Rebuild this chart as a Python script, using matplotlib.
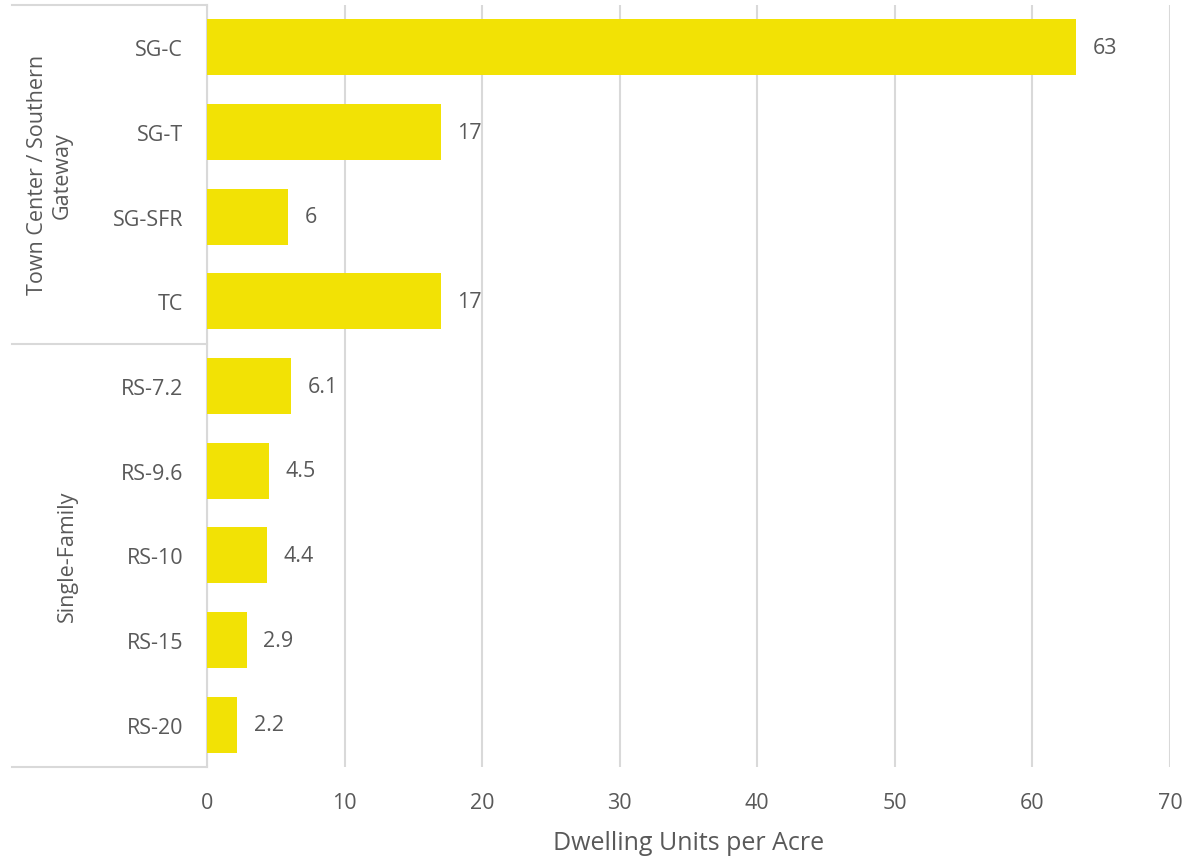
import matplotlib.pyplot as plt
import matplotlib.transforms as mtransforms

plt.rcParams['font.family'] = ['Open Sans', 'DejaVu Sans']

zones = ['SG-C', 'SG-T', 'SG-SFR', 'TC', 'RS-7.2', 'RS-9.6', 'RS-10', 'RS-15', 'RS-20']
density = [63.2, 17.0, 5.9, 17.0, 6.1, 4.5, 4.4, 2.9, 2.2]
value_labels = ['63', '17', '6', '17', '6.1', '4.5', '4.4', '2.9', '2.2']
groups = ['Town Center / Southern\nGateway', 'Single-Family']
group_sizes = [4, 5]

bar_color = '#F2E205'
text_color = '#595959'
line_color = '#D9D9D9'

fig = plt.figure(figsize=(12.03, 8.62), dpi=100)
ax = fig.add_axes([0.172, 0.109, 0.8006, 0.884])

ypos = list(range(len(zones)))
ax.barh(ypos, density, height=0.66, color=bar_color, zorder=3)
for y, v, lab in zip(ypos, density, value_labels):
    ax.text(v + 1.2, y, lab, va='center', ha='left', fontsize=15.5, color=text_color)

ax.set_xlim(0, 70)
ax.set_ylim(len(zones) - 0.5, -0.5)
ax.set_xticks(range(0, 71, 10))
ax.set_yticks(ypos)
ax.set_yticklabels(zones)
ax.tick_params(axis='y', length=0, pad=17, labelsize=15.5, labelcolor=text_color)
ax.tick_params(axis='x', length=0, pad=18, labelsize=15.5, labelcolor=text_color)
ax.xaxis.grid(True, color=line_color, linewidth=1.5, zorder=0)
for s in ['top', 'right', 'bottom']:
    ax.spines[s].set_visible(False)
ax.spines['left'].set_color(line_color)
ax.spines['left'].set_linewidth(1.5)
ax.set_xlabel('Dwelling Units per Acre', fontsize=18, color=text_color, labelpad=12)

# group separators and labels on the left
trans = mtransforms.blended_transform_factory(ax.transAxes, ax.transData)
x_left = -0.2025
start = 0
edges = [-0.5]
for g, n in zip(groups, group_sizes):
    end = start + n
    edges.append(end - 0.5)
    mid = (start + end - 1) / 2
    xg = -0.163 if '\n' in g else -0.145
    ax.text(xg, mid, g, transform=trans, rotation=90, ha='center', va='center',
            fontsize=15.5, color=text_color, linespacing=1.25)
    start = end
for e in edges:
    ax.plot([x_left, 0], [e, e], transform=trans, color=line_color,
            linewidth=1.5, clip_on=False)

fig.savefig('out.png', dpi=100)
